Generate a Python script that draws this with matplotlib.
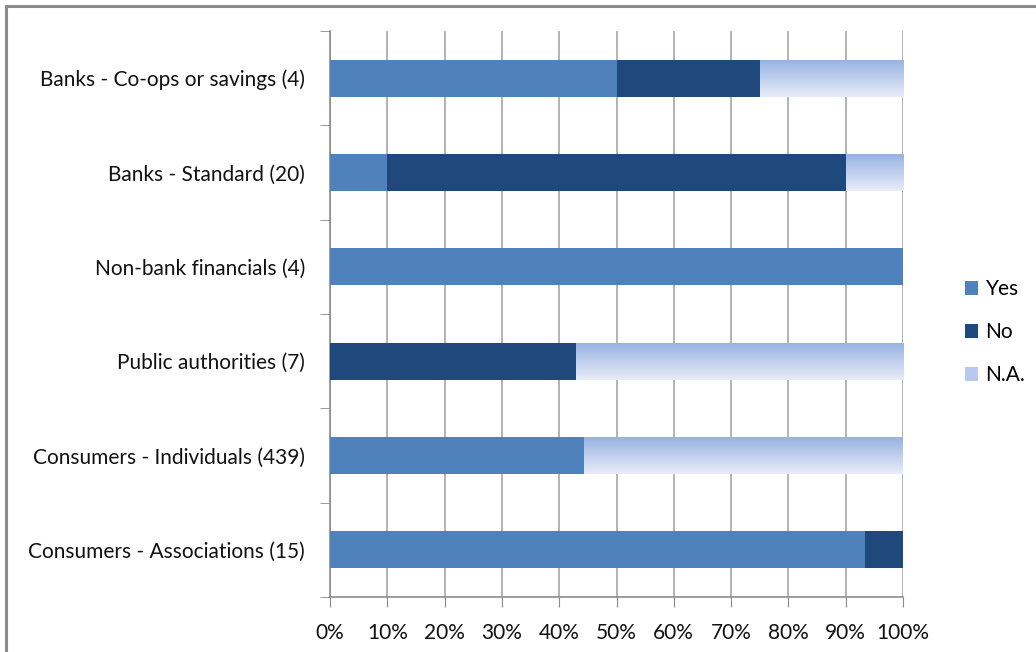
import matplotlib
matplotlib.use("Agg")
import matplotlib.pyplot as plt
import numpy as np
from matplotlib.patches import Patch, Rectangle
from matplotlib.colors import LinearSegmentedColormap

categories = ["Banks - Co-ops or savings (4)", "Banks - Standard (20)", "Non-bank financials (4)",
              "Public authorities (7)", "Consumers - Individuals (439)", "Consumers - Associations (15)"]
yes = [50.0, 10.0, 100.0, 0.0, 44.4, 93.3]
no = [25.0, 80.0, 0.0, 42.9, 0.0, 6.7]
na = [25.0, 10.0, 0.0, 57.1, 55.6, 0.0]
xticks = [0, 10, 20, 30, 40, 50, 60, 70, 80, 90, 100]
xticklabels = ["0%", "10%", "20%", "30%", "40%", "50%", "60%", "70%", "80%", "90%", "100%"]

plt.rcParams['font.family'] = ['Lato', 'DejaVu Sans']

fig = plt.figure(figsize=(10.36, 6.52), dpi=100)
ax = fig.add_axes([330/1036, 1-597/652, (903-330)/1036, (597-31)/652])

# figure border
fig.patches.append(Rectangle((6/1036, -0.1), 1.2, 1-5.5/652+0.1, transform=fig.transFigure,
                             fill=False, edgecolor='#8c8c8c', linewidth=2.2, zorder=10))

c_yes = '#4f81bd'
c_no = '#1f497d'
grad = LinearSegmentedColormap.from_list('g', ['#98b3e3', '#e8ecf8'])

y = np.arange(len(categories))
h = 0.39
ax.barh(y, yes, height=h, color=c_yes, zorder=3)
ax.barh(y, no, left=yes, height=h, color=c_no, zorder=3)
left_na = np.array(yes) + np.array(no)
gimg = np.linspace(0, 1, 64).reshape(-1, 1)
for yi, l, w in zip(y, left_na, na):
    if w > 0:
        ax.imshow(gimg, cmap=grad, aspect='auto', zorder=3, interpolation='bilinear',
                  extent=(l, l + w, yi + h/2, yi - h/2), origin='upper')

ax.set_xlim(0, 100)
ax.set_ylim(len(categories) - 0.5, -0.5)

ax.set_xticks(xticks)
ax.set_xticklabels(xticklabels, fontsize=15, color='#111111')
ax.set_yticks(y)
ax.set_yticklabels(categories, fontsize=15, color='#111111')
ax.set_yticks(np.arange(-0.5, len(categories)), minor=True)
ax.tick_params(axis='y', which='major', length=0, pad=18)
ax.tick_params(axis='y', which='minor', length=7, color='#8c8c8c', direction='out')
ax.tick_params(axis='x', which='major', length=7, color='#8c8c8c', direction='out', pad=12)

ax.grid(axis='x', color='#a6a6a6', linewidth=1.2, zorder=0)
ax.set_axisbelow(True)
for s in ['top', 'right']:
    ax.spines[s].set_visible(False)
for s in ['left', 'bottom']:
    ax.spines[s].set_color('#8c8c8c')
    ax.spines[s].set_linewidth(1.2)

handles = [Patch(facecolor=c_yes, label='Yes'), Patch(facecolor=c_no, label='No'),
           Patch(facecolor='#b8c9ee', label='N.A.')]
fig.legend(handles=handles, loc='center left', bbox_to_anchor=(946/1036, 1-332/652),
           frameon=False, fontsize=15, handlelength=0.65, handleheight=0.65,
           handletextpad=0.35, labelspacing=1.1)

fig.savefig('out.png', dpi=100)
